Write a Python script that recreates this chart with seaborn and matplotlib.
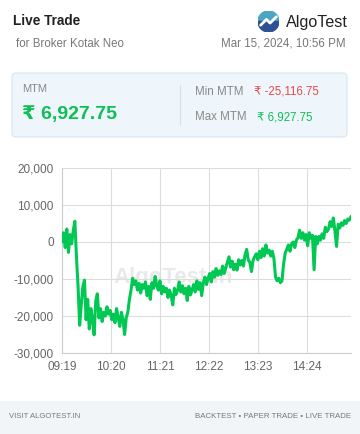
import numpy as np
import pandas as pd
import seaborn as sns
import matplotlib.pyplot as plt
from matplotlib.patches import FancyBboxPatch, Rectangle, Wedge
from matplotlib.lines import Line2D

# minutes after 09:19 and MTM values
minutes = list(range(0, 361, 2))
mtm = [0, 2500, -1500, 3500, -2800, 2000, -500, 3000, 5600, -4000,
       -12000, -22500, -17000, -12000, -10300, -21000, -15500, -23500, -18000, -21000,
       -25100, -16000, -14000, -20500, -18000, -21500, -19000, -20000, -17500, -19500,
       -18500, -21000, -19500, -21800, -18000, -20500, -22800, -19000, -21000, -25000,
       -20500, -19000, -15500, -13000, -9800, -11500, -10500, -13000, -11200, -13800,
       -11500, -12500, -10800, -14500, -12000, -15500, -11000, -12500, -9300, -11800,
       -13000, -10500, -14000, -12000, -13500, -12500, -15000, -13000, -14500, -17000,
       -12500, -14200, -13000, -10800, -13500, -11800, -14000, -12500, -15800, -12000,
       -14300, -13000, -11500, -13500, -10500, -12800, -11000, -14500, -11000, -9500,
       -11500, -9800, -8500, -10800, -8000, -9500, -7200, -9000, -7800, -8800,
       -6500, -8500, -7000, -5500, -4000, -6800, -5200, -7500, -6000, -7600,
       -4800, -6200, -5000, -6500, -3500, -2000, -4800, -5500, -8000, -5000,
       -4000, -3200, -4800, -2500, -4200, -1800, -3800, -800, -3000, -2200,
       -3800, -2500, -4500, -9500, -10500, -9800, -11000, -10500, -6000, -3000,
       -2000, -800, -2500, -500, 0, -1500, 500, 1200, 3200, 1000,
       2500, 500, 2000, -1000, 2500, 1000, 1800, -7500, 1500, -500,
       1500, 500, 2200, 1000, 4000, 2800, 3500, 5500, 4200, 6500,
       3000, -1200, 4800, 3800, 5200, 4500, 5800, 5000, 6200, 5900,
       6927.75]

tick_pos = [0, 61, 122, 183, 244, 305]
tick_labels = ["09:19", "10:20", "11:21", "12:22", "13:23", "14:24"]
y_ticks = [20000, 10000, 0, -10000, -20000, -30000]

df = pd.DataFrame({"minute": minutes, "mtm": mtm})

sns.set_style("white")
plt.rcParams['font.family'] = ['Liberation Sans', 'DejaVu Sans']

W, H = 360, 434
fig = plt.figure(figsize=(W / 100, H / 100), dpi=100)
fig.patch.set_facecolor("white")

def px(x, y):
    return x / W, 1 - y / H

# header
fig.text(*px(13, 21), "Live Trade", fontsize=9.8, fontweight="bold", color="#222222", va="center")
fig.text(*px(16, 44), "for Broker Kotak Neo", fontsize=8.3, color="#777777", va="center")
fig.text(*px(346, 44), "Mar 15, 2024, 10:56 PM", fontsize=8.3, color="#777777", va="center", ha="right")
fig.text(*px(286, 22), "AlgoTest", fontsize=11.6, color="#222222", va="center")

# logo
logo_ax = fig.add_axes([258 / W, 1 - 32 / H, 21 / W, 21 / H])
logo_ax.set_xlim(-1, 1)
logo_ax.set_ylim(-1, 1)
logo_ax.set_aspect("equal")
logo_ax.axis("off")
logo_ax.add_patch(Wedge((0, 0), 1, 0, 180, color="#4ba6c4"))
logo_ax.add_patch(Wedge((0, 0), 1, 180, 360, color="#2e5196"))
logo_ax.plot([-0.75, -0.2, 0.15, 0.75], [-0.35, 0.2, -0.15, 0.45], color="white", lw=2)

# MTM box
box = FancyBboxPatch(px(12, 137), 335 / W, 64 / H, boxstyle="round,pad=0,rounding_size=0.01",
                     transform=fig.transFigure, facecolor="#eff6fb", edgecolor="#d5e7f2", lw=0.8)
fig.patches.append(box)
fig.lines.append(Line2D([180 / W, 180 / W], [1 - 85 / H, 1 - 125 / H], transform=fig.transFigure,
                        color="#d0e2ee", lw=0.8))
fig.text(*px(22, 89), "MTM", fontsize=8, color="#888888", va="center")
fig.text(*px(22, 115), "₹ 6,927.75", fontsize=14, fontweight="bold", color="#0dbf55", va="center")
fig.text(*px(195, 92), "Min MTM", fontsize=8.3, color="#888888", va="center")
fig.text(*px(254, 92), "₹ -25,116.75", fontsize=8.3, color="#e94848", va="center")
fig.text(*px(195, 117), "Max MTM", fontsize=8.3, color="#888888", va="center")
fig.text(*px(257, 117), "₹ 6,927.75", fontsize=8.3, color="#0dbf55", va="center")

# chart
ax = fig.add_axes([62 / W, 1 - 353 / H, 289 / W, 185 / H])
ax.text(0.385, 0.41, "AlgoTest.in", transform=ax.transAxes, fontsize=16, fontweight="bold",
        color="#e9e9e9", ha="center", va="center", zorder=0)
sns.lineplot(data=df, x="minute", y="mtm", ax=ax, color="#00c853", linewidth=2.2, zorder=3)
ax.set_xlim(0, 360)
ax.set_ylim(-30000, 20000)
ax.set_xticks(tick_pos)
ax.set_xticklabels(tick_labels)
ax.set_yticks(y_ticks)
ax.set_yticklabels([f"{v:,}" for v in y_ticks])
ax.set_xlabel("")
ax.set_ylabel("")
ax.grid(True, color="#dddddd", lw=0.8)
ax.set_axisbelow(True)
for s in ["top", "right"]:
    ax.spines[s].set_visible(False)
for s in ["left", "bottom"]:
    ax.spines[s].set_color("#cccccc")
    ax.spines[s].set_linewidth(0.8)
ax.tick_params(axis="both", length=4, color="#dddddd", labelsize=8.5, labelcolor="#666666", pad=2)
ax.set_facecolor("none")

# footer
fig.patches.append(Rectangle(px(0, 434), 1, 33 / H, transform=fig.transFigure, facecolor="#f2f5f8", edgecolor="none"))
fig.text(*px(9, 417), "VISIT ALGOTEST.IN", fontsize=5.6, color="#777777", va="center")
fig.text(*px(351, 417), "BACKTEST • PAPER TRADE • LIVE TRADE", fontsize=5.7, color="#777777", va="center", ha="right")

fig.savefig("out.png", dpi=100)
